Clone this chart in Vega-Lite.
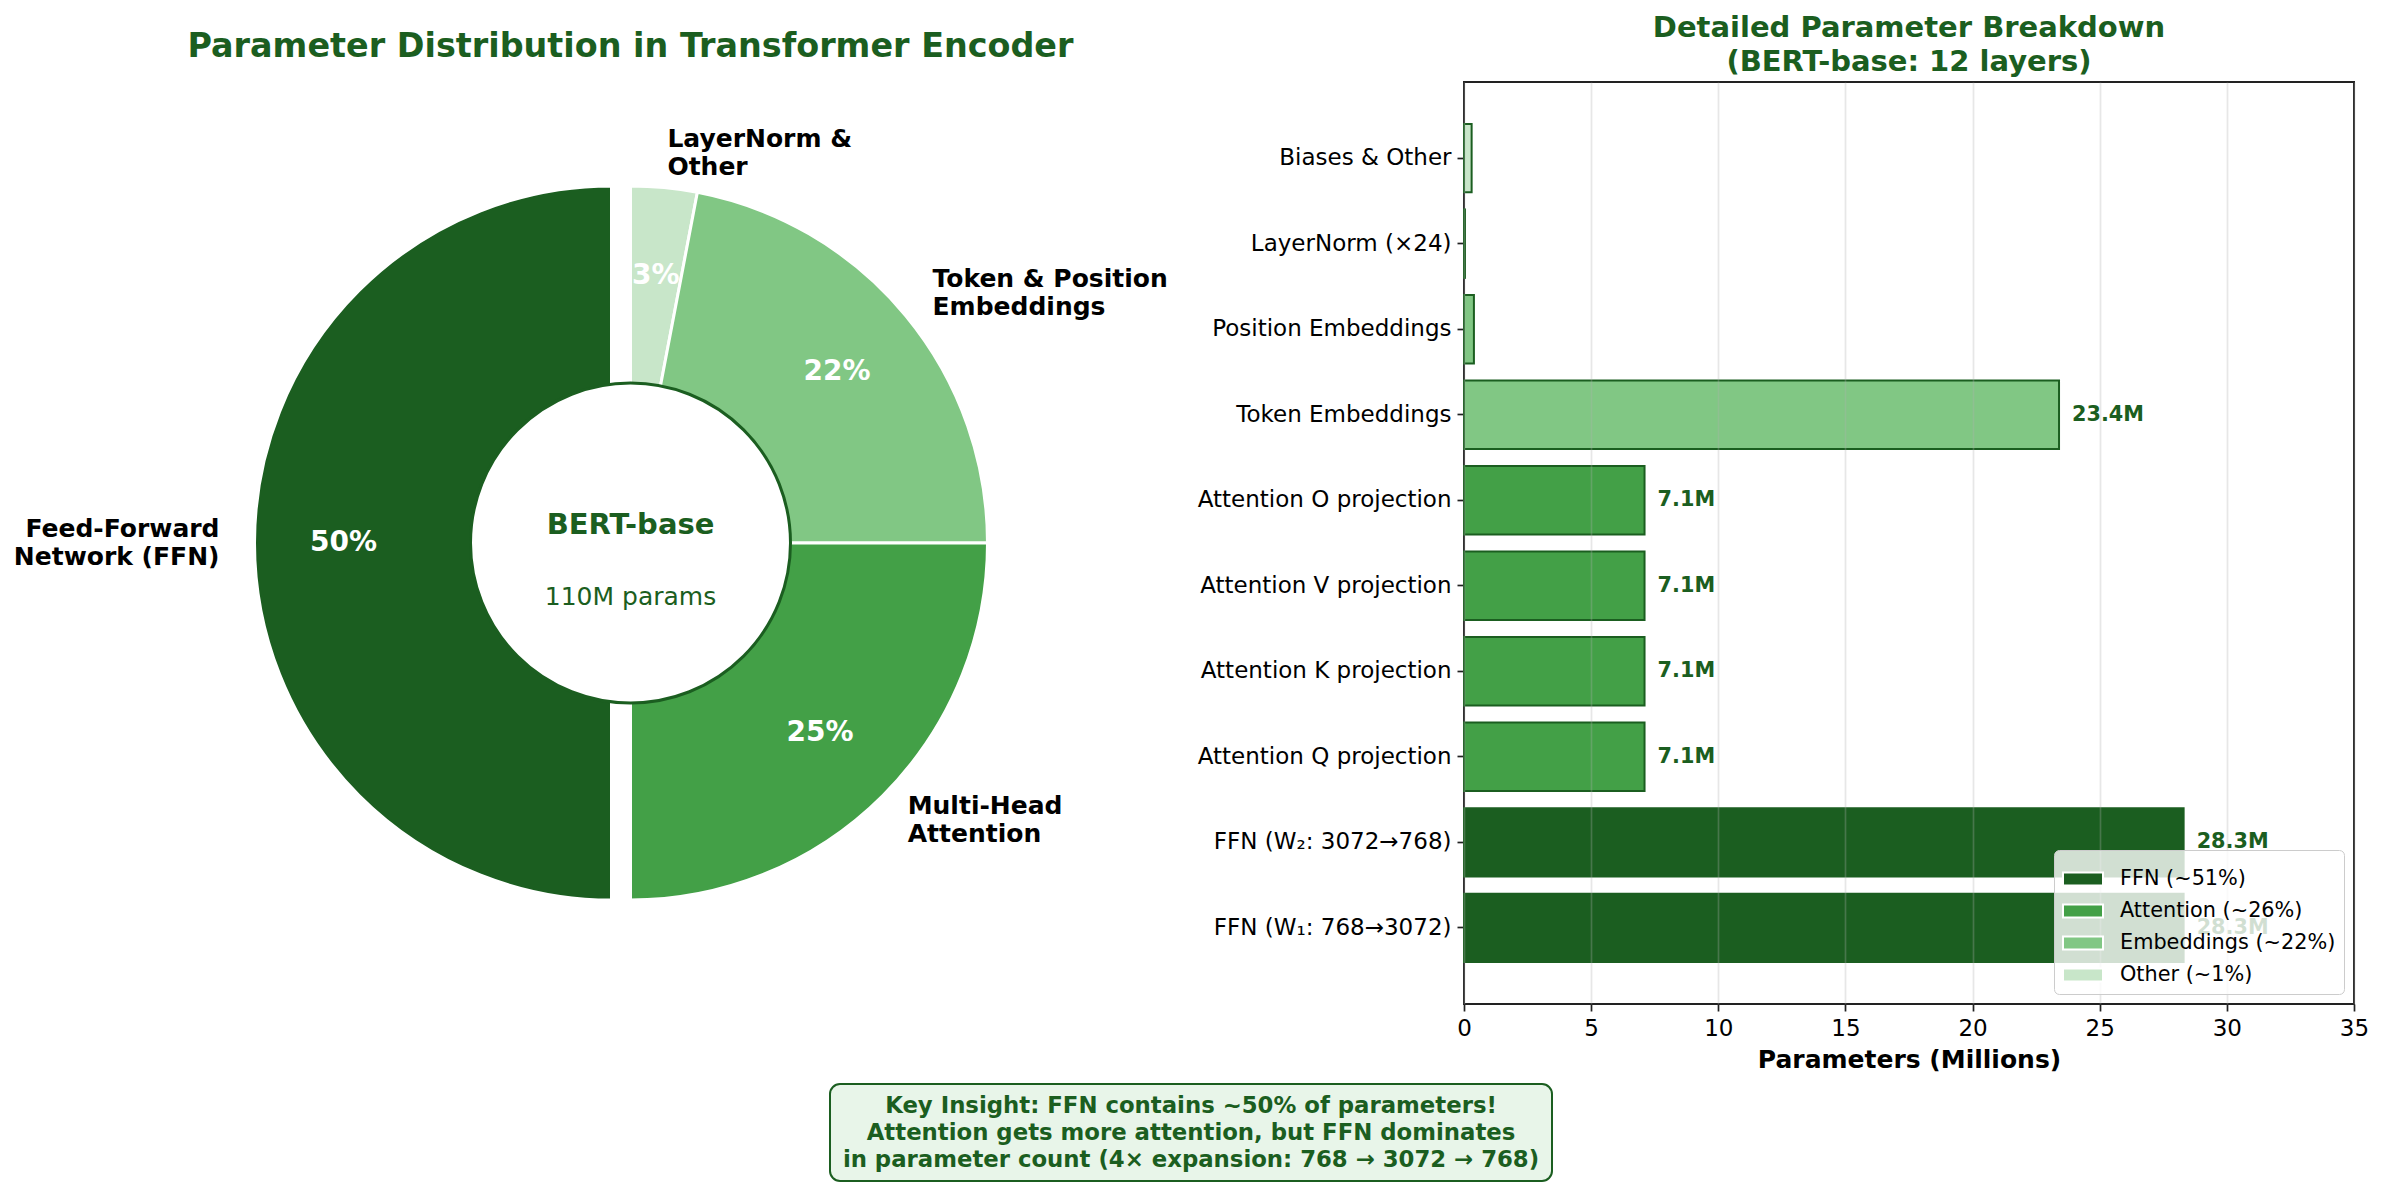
{
  "$schema": "https://vega.github.io/schema/vega-lite/v6.json",
  "padding": {"left": 0, "top": 13, "right": 0, "bottom": 0},
  "background": "white",
  "config": {
    "font": "DejaVu Sans",
    "view": {"stroke": null},
    "text": {"font": "DejaVu Sans"}
  },
  "bounds": "full",
  "spacing": 10,
  "vconcat": [
    {
      "bounds": "flush",
      "spacing": 203,
      "resolve": {"scale": {"color": "independent"}, "legend": {"color": "independent"}},
      "hconcat": [
        {
          "width": 1261,
          "height": 922,
          "view": {"fill": "white", "stroke": null},
          "title": {
            "text": "Parameter Distribution in Transformer Encoder",
            "fontSize": 33.4,
            "fontWeight": "bold",
            "color": "#1b5e20",
            "anchor": "middle",
            "frame": "group",
            "baseline": "alphabetic",
            "offset": -8
          },
          "layer": [
            {
              "data": {
                "values": [
                  {"part": "LayerNorm & Other", "pct": 3, "pctText": "3%", "ord": 1, "label": "LayerNorm &\nOther", "side": "right"},
                  {"part": "Token & Position Embeddings", "pct": 22, "pctText": "22%", "ord": 2, "label": "Token & Position\nEmbeddings", "side": "right"},
                  {"part": "Multi-Head Attention", "pct": 25, "pctText": "25%", "ord": 3, "label": "Multi-Head\nAttention", "side": "right"},
                  {"part": "Feed-Forward Network (FFN)", "pct": 50, "pctText": "50%", "ord": 4, "label": "Feed-Forward\nNetwork (FFN)", "side": "left"}
                ]
              },
              "encoding": {
                "theta": {"field": "pct", "type": "quantitative", "stack": true},
                "order": {"field": "ord", "type": "quantitative"},
                "detail": {"field": "part", "type": "nominal"}
              },
              "layer": [
                {
                  "mark": {"type": "arc", "outerRadius": 357, "innerRadius": 140, "stroke": "white", "strokeWidth": 3},
                  "encoding": {
                    "color": {
                      "field": "part", "type": "nominal", "legend": null,
                      "scale": {
                        "domain": ["LayerNorm & Other", "Token & Position Embeddings", "Multi-Head Attention", "Feed-Forward Network (FFN)"],
                        "range": ["#c8e6c9", "#81c784", "#43a047", "#1b5e20"]
                      }
                    },
                    "opacity": {"condition": {"test": "datum.side === 'left'", "value": 0}, "value": 1}
                  }
                },
                {
                  "mark": {"type": "arc", "outerRadius": 357, "innerRadius": 140, "stroke": "white", "strokeWidth": 3, "xOffset": -19},
                  "encoding": {
                    "color": {"field": "part", "type": "nominal", "legend": null},
                    "opacity": {"condition": {"test": "datum.side === 'left'", "value": 1}, "value": 0}
                  }
                },
                {
                  "mark": {"type": "text", "radius": 268, "fontSize": 28, "fontWeight": "bold", "color": "white", "align": "center", "baseline": "middle"},
                  "encoding": {
                    "text": {"condition": {"test": "datum.side === 'right'", "field": "pctText"}, "value": ""}
                  }
                },
                {
                  "mark": {"type": "text", "radius": 268, "fontSize": 28, "fontWeight": "bold", "color": "white", "align": "center", "baseline": "middle", "xOffset": -19},
                  "encoding": {
                    "text": {"condition": {"test": "datum.side === 'left'", "field": "pctText"}, "value": ""}
                  }
                },
                {
                  "mark": {"type": "text", "radius": 392, "fontSize": 25, "fontWeight": "bold", "color": "black", "align": "left", "baseline": "middle", "lineBreak": "\n", "lineHeight": 28, "dy": -14},
                  "encoding": {
                    "text": {"condition": {"test": "datum.side === 'right'", "field": "label"}, "value": ""}
                  }
                },
                {
                  "mark": {"type": "text", "radius": 392, "fontSize": 25, "fontWeight": "bold", "color": "black", "align": "right", "baseline": "middle", "lineBreak": "\n", "lineHeight": 28, "dy": -14, "xOffset": -19},
                  "encoding": {
                    "text": {"condition": {"test": "datum.side === 'left'", "field": "label"}, "value": ""}
                  }
                }
              ]
            },
            {
              "data": {"values": [{"model": "BERT-base", "size": "110M params"}]},
              "layer": [
                {
                  "mark": {"type": "arc", "outerRadius": 160, "theta": 6.2832, "fill": "white", "stroke": "#1b5e20", "strokeWidth": 3},
                  "encoding": {}
                },
                {
                  "mark": {"type": "text", "fontSize": 29, "fontWeight": "bold", "color": "#1b5e20", "align": "center", "baseline": "middle", "dy": -18},
                  "encoding": {"text": {"field": "model"}}
                },
                {
                  "mark": {"type": "text", "fontSize": 25, "color": "#1b5e20", "align": "center", "baseline": "middle", "dy": 54},
                  "encoding": {"text": {"field": "size"}}
                }
              ]
            }
          ]
        },
        {
          "width": 890,
          "height": 922,
          "view": {"stroke": "#222222", "strokeWidth": 2},
          "title": {
            "text": ["Detailed Parameter Breakdown", "(BERT-base: 12 layers)"],
            "fontSize": 29,
            "fontWeight": "bold",
            "color": "#1b5e20",
            "anchor": "middle",
            "frame": "group",
            "baseline": "alphabetic",
            "lineHeight": 34,
            "offset": -18
          },
          "data": {
            "values": [
              {"name": "Biases & Other", "value": 0.3, "group": "Other (~1%)"},
              {"name": "LayerNorm (×24)", "value": 0.04, "group": "Other (~1%)"},
              {"name": "Position Embeddings", "value": 0.39, "group": "Embeddings (~22%)"},
              {"name": "Token Embeddings", "value": 23.4, "group": "Embeddings (~22%)", "lbl": "23.4M"},
              {"name": "Attention O projection", "value": 7.1, "group": "Attention (~26%)", "lbl": "7.1M"},
              {"name": "Attention V projection", "value": 7.1, "group": "Attention (~26%)", "lbl": "7.1M"},
              {"name": "Attention K projection", "value": 7.1, "group": "Attention (~26%)", "lbl": "7.1M"},
              {"name": "Attention Q projection", "value": 7.1, "group": "Attention (~26%)", "lbl": "7.1M"},
              {"name": "FFN (W₂: 3072→768)", "value": 28.3, "group": "FFN (~51%)", "lbl": "28.3M"},
              {"name": "FFN (W₁: 768→3072)", "value": 28.3, "group": "FFN (~51%)", "lbl": "28.3M"}
            ]
          },
          "encoding": {
            "y": {
              "field": "name",
              "type": "nominal",
              "sort": ["Biases & Other", "LayerNorm (×24)", "Position Embeddings", "Token Embeddings", "Attention O projection", "Attention V projection", "Attention K projection", "Attention Q projection", "FFN (W₂: 3072→768)", "FFN (W₁: 768→3072)"],
              "scale": {"paddingInner": 0.2, "paddingOuter": 0.49},
              "axis": {
                "title": null,
                "domain": false,
                "grid": false,
                "ticks": true,
                "tickSize": 7,
                "tickWidth": 1.7,
                "tickColor": "#222222",
                "labelFontSize": 23,
                "labelColor": "black",
                "labelPadding": 6,
                "labelLimit": 600
              }
            },
            "x": {
              "field": "value",
              "type": "quantitative",
              "scale": {"domain": [0, 35], "nice": false},
              "axis": {
                "title": "Parameters (Millions)",
                "titleFontSize": 25,
                "titleFontWeight": "bold",
                "titleColor": "black",
                "titlePadding": 7,
                "values": [0, 5, 10, 15, 20, 25, 30, 35],
                "domain": false,
                "grid": true,
                "gridColor": "#b0b0b0",
                "gridOpacity": 0.3,
                "gridWidth": 1.7,
                "tickSize": 7,
                "tickWidth": 1.7,
                "tickColor": "#222222",
                "labelFontSize": 23,
                "labelColor": "black",
                "labelPadding": 6,
                "labelFlush": false,
                "zindex": 1
              }
            }
          },
          "layer": [
            {
              "mark": {"type": "bar", "stroke": "#1b5e20", "strokeWidth": 2},
              "encoding": {
                "color": {
                  "field": "group",
                  "type": "nominal",
                  "scale": {
                    "domain": ["FFN (~51%)", "Attention (~26%)", "Embeddings (~22%)", "Other (~1%)"],
                    "range": ["#1b5e20", "#43a047", "#81c784", "#c8e6c9"]
                  },
                  "legend": {
                    "title": null,
                    "orient": "bottom-right",
                    "offset": 10,
                    "fillColor": "rgba(255,255,255,0.8)",
                    "strokeColor": "#cccccc",
                    "cornerRadius": 5,
                    "padding": 8,
                    "symbolType": "M-1,-0.32H1V0.32H-1Z",
                    "symbolSize": 1600,
                    "symbolStrokeColor": "white",
                    "symbolStrokeWidth": 2,
                    "symbolOpacity": 1,
                    "labelFontSize": 20.8,
                    "labelColor": "black",
                    "labelLimit": 400,
                    "labelOffset": 16,
                    "rowPadding": -1.5,
                    "zindex": 2
                  }
                }
              }
            },
            {
              "transform": [{"filter": "isValid(datum.lbl)"}],
              "mark": {"type": "text", "align": "left", "baseline": "middle", "dx": 13, "fontSize": 20.8, "fontWeight": "bold", "color": "#1b5e20"},
              "encoding": {"text": {"field": "lbl"}}
            }
          ]
        }
      ]
    },
    {
      "bounds": "flush",
      "spacing": 20,
      "hconcat": [
        {
          "width": 810,
          "height": 97,
          "view": {"fill": "white", "stroke": null},
          "data": {"values": []},
          "mark": "point"
        },
        {
          "width": 722,
          "height": 97,
          "view": {"fill": "#e8f5e9", "stroke": "#1b5e20", "strokeWidth": 2, "cornerRadius": 10},
          "data": {"values": [{"msg": "Key Insight: FFN contains ~50% of parameters!\nAttention gets more attention, but FFN dominates\nin parameter count (4× expansion: 768 → 3072 → 768)"}]},
          "mark": {"type": "text", "lineBreak": "\n", "lineHeight": 27, "fontSize": 22.8, "fontWeight": "bold", "color": "#1b5e20", "align": "center", "baseline": "middle", "dy": -27},
          "encoding": {"text": {"field": "msg"}}
        }
      ]
    }
  ]
}
